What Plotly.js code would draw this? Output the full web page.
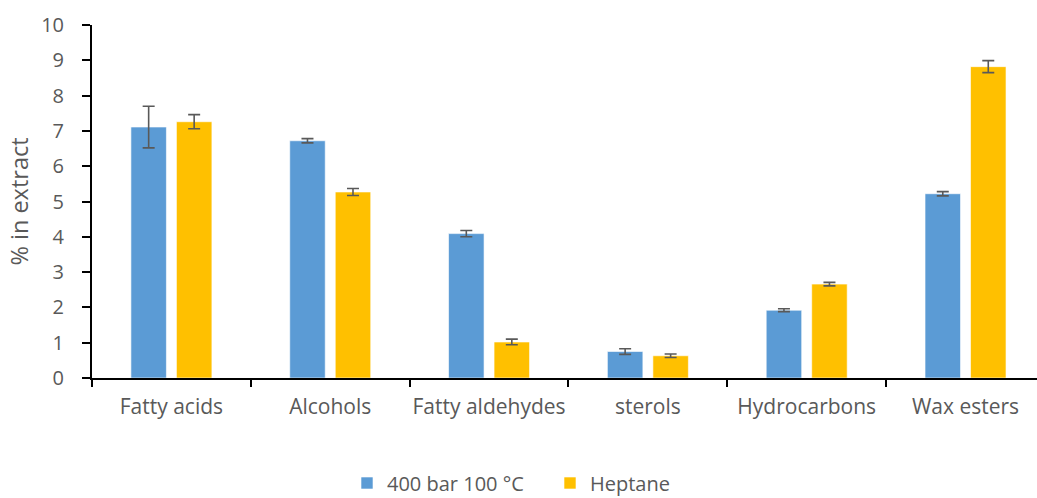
<!DOCTYPE html>
<html><head><meta charset="utf-8">
<script src="https://cdn.plot.ly/plotly-3.0.1.min.js"></script>
<style>html,body{margin:0;padding:0;background:#fff}#c{width:1037px;height:498px}</style>
</head><body><div id="c"></div>
<script>
const categories = ["Fatty acids", "Alcohols", "Fatty aldehydes", "sterols", "Hydrocarbons", "Wax esters"];
const seriesNames = ["400 bar 100 °C", "Heptane"];
const values400 = [7.11, 6.72, 4.09, 0.75, 1.92, 5.22];
const err400 = [0.59, 0.06, 0.09, 0.08, 0.04, 0.06];
const valuesHeptane = [7.26, 5.27, 1.02, 0.63, 2.66, 8.82];
const errHeptane = [0.2, 0.1, 0.08, 0.05, 0.05, 0.17];
const yTicks = [0,1,2,3,4,5,6,7,8,9,10];

const font = "'Open Sans', 'Noto Sans', sans-serif";
const errStyle = {type:'data', visible:true, color:'#595959', thickness:1.6, width:6};
const traces = [
  {type:'bar', name:seriesNames[0], x:categories, y:values400,
   marker:{color:'#5B9BD5', line:{color:'#ffffff', width:0.6}},
   error_y:Object.assign({array:err400}, errStyle)},
  {type:'bar', name:seriesNames[1], x:categories, y:valuesHeptane,
   marker:{color:'#FFC000', line:{color:'#ffffff', width:0.6}},
   error_y:Object.assign({array:errHeptane}, errStyle)}
];
const layout = {
  width:1037, height:498,
  margin:{l:92, r:0, t:25, b:120},
  paper_bgcolor:'#fff', plot_bgcolor:'#fff',
  barmode:'group', bargap:0.427, bargroupgap:0.22,
  font:{family:font, color:'#595959', size:20},
  showlegend:true,
  legend:{orientation:'h', x:347/1037, xanchor:'left', xref:'container', y:15/498, yanchor:'middle', yref:'container',
          font:{family:font, size:20, color:'#595959'}, itemwidth:30, traceorder:'normal',
          entrywidth:158, entrywidthmode:'pixels', tracegroupgap:0},
  xaxis:{type:'category', range:[-0.5, 5.45], showline:true, linecolor:'#000', linewidth:2,
         ticks:'outside', tickson:'boundaries', ticklen:7, tickwidth:2, tickcolor:'#000', tickangle:0,
         showgrid:false, zeroline:false, tickfont:{family:font, size:21, color:'#595959'}, ticklabelstandoff:9},
  yaxis:{range:[0,10], tickvals:yTicks, showline:true, linecolor:'#000', linewidth:2,
         ticks:'outside', ticklen:8, tickwidth:2, tickcolor:'#000', showgrid:false, zeroline:false,
         tickfont:{family:font, size:20, color:'#595959'}, ticklabelstandoff:14,
         title:{text:'% in extract', font:{family:font, size:23.5, color:'#595959'}, standoff:6}}
};
Plotly.newPlot('c', traces, layout, {displayModeBar:false, staticPlot:true});
</script></body></html>
